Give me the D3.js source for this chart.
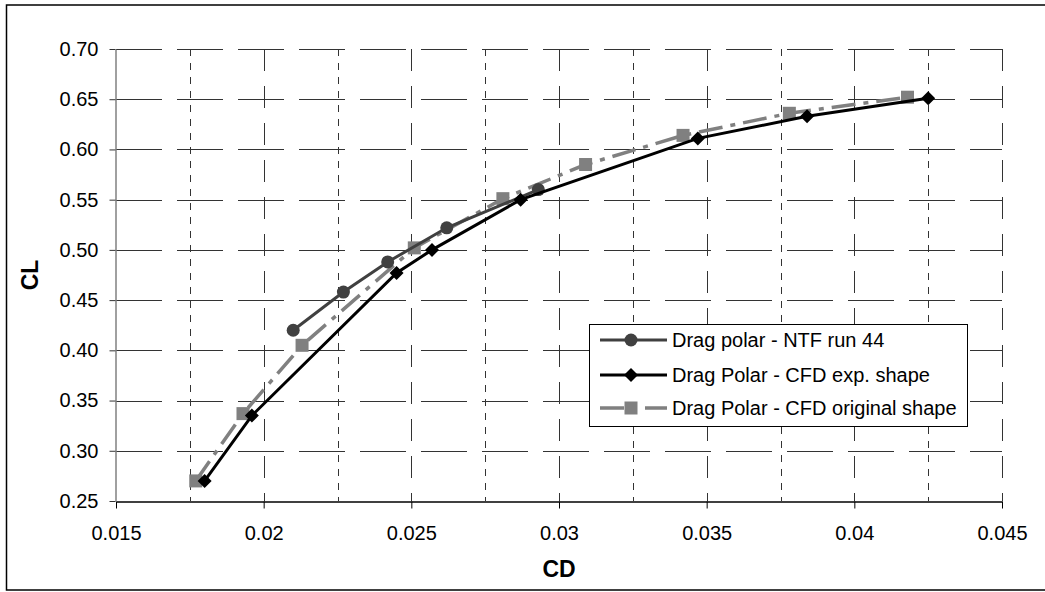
<!DOCTYPE html>
<html><head><meta charset="utf-8">
<script src="https://cdn.jsdelivr.net/npm/d3@7"></script>
<style>
html,body{margin:0;padding:0;background:#fff;}
svg{display:block;font-family:"Liberation Sans",Arial,sans-serif;}
</style></head>
<body><svg id="c" width="1045" height="592"></svg>
<script>
// ---- data ----
const xTickValues = [0.015, 0.02, 0.025, 0.03, 0.035, 0.04, 0.045];
const xTickLabels = ["0.015", "0.02", "0.025", "0.03", "0.035", "0.04", "0.045"];
const yTickValues = [0.25, 0.30, 0.35, 0.40, 0.45, 0.50, 0.55, 0.60, 0.65, 0.70];
const yTickLabels = ["0.25", "0.30", "0.35", "0.40", "0.45", "0.50", "0.55", "0.60", "0.65", "0.70"];
const xMinorGrid = [0.0175, 0.0225, 0.0275, 0.0325, 0.0375, 0.0425];

const ntfCD = [0.0210, 0.0227, 0.0242, 0.0262, 0.0293];
const ntfCL = [0.420, 0.458, 0.488, 0.522, 0.560];
const expCD = [0.0180, 0.0196, 0.0245, 0.0257, 0.0287, 0.0347, 0.0384, 0.0425];
const expCL = [0.270, 0.335, 0.477, 0.500, 0.550, 0.611, 0.633, 0.651];
const origCD = [0.0177, 0.0193, 0.0213, 0.0251, 0.0281, 0.0309, 0.0342, 0.0378, 0.0418];
const origCL = [0.270, 0.337, 0.405, 0.502, 0.551, 0.585, 0.614, 0.636, 0.652];

const seriesNames = ["Drag polar - NTF run 44", "Drag Polar - CFD exp. shape", "Drag Polar - CFD original shape"];
const xTitle = "CD", yTitle = "CL";

// ---- layout ----
const svg = d3.select("#c");
const L = 116, R = 1002, T = 49, B = 501;
const x = d3.scaleLinear().domain([0.015, 0.045]).range([L, R]);
const y = d3.scaleLinear().domain([0.25, 0.70]).range([B, T]);

// outer border
svg.append("rect").attr("x", 6.5).attr("y", 5).attr("width", 1045).attr("height", 585)
  .attr("fill", "none").attr("stroke", "#000").attr("stroke-width", 1.5);

// grid
const g = svg.append("g");
g.selectAll(".hg").data(yTickValues.slice(1)).enter().append("line")
  .attr("x1", L).attr("x2", R).attr("y1", d => Math.round(y(d)) + 0.5).attr("y2", d => Math.round(y(d)) + 0.5)
  .attr("stroke", "#333").attr("stroke-width", 1).attr("stroke-dasharray", "46,15");
g.selectAll(".vg").data(xTickValues.slice(1)).enter().append("line")
  .attr("x1", d => Math.round(x(d)) + 0.5).attr("x2", d => Math.round(x(d)) + 0.5).attr("y1", T).attr("y2", B)
  .attr("stroke", "#333").attr("stroke-width", 1).attr("stroke-dasharray", "22,15");
g.selectAll(".vm").data(xMinorGrid).enter().append("line")
  .attr("x1", d => Math.round(x(d)) + 0.5).attr("x2", d => Math.round(x(d)) + 0.5).attr("y1", T).attr("y2", B)
  .attr("stroke", "#333").attr("stroke-width", 1).attr("stroke-dasharray", "7,7");

// axes
const xAxis = d3.axisBottom(x).tickValues(xTickValues).tickFormat((d, i) => xTickLabels[i]).tickSize(7).tickSizeOuter(0).tickPadding(17);
const xa = svg.append("g").attr("transform", `translate(0,${B + 0.5})`).call(xAxis);
xa.select(".domain").attr("stroke", "#000").attr("stroke-width", 1.5);
xa.selectAll(".tick line").attr("stroke", "#000");
xa.selectAll("text").attr("font-size", 20).attr("fill", "#000").attr("font-family", "Liberation Sans, Arial, sans-serif");

const yAxis = d3.axisLeft(y).tickValues(yTickValues).tickFormat((d, i) => yTickLabels[i]).tickSize(6).tickSizeOuter(0).tickPadding(11);
const ya = svg.append("g").attr("transform", `translate(${L - 0.5},0)`).call(yAxis);
ya.select(".domain").attr("stroke", "#808080").attr("stroke-width", 1.5);
ya.selectAll(".tick line").attr("stroke", "#333");
ya.selectAll("text").attr("font-size", 20).attr("fill", "#000").attr("font-family", "Liberation Sans, Arial, sans-serif");

// titles
svg.append("text").attr("x", (L + R) / 2).attr("y", 577).attr("text-anchor", "middle")
  .attr("font-size", 23).attr("font-weight", "bold").text(xTitle);
svg.append("text").attr("transform", `translate(38,${(T + B) / 2}) rotate(-90)`).attr("text-anchor", "middle")
  .attr("font-size", 23).attr("font-weight", "bold").text(yTitle);

// series
const line = d3.line().x(d => x(d[0])).y(d => y(d[1]));
const ntf = ntfCD.map((v, i) => [v, ntfCL[i]]);
const exp = expCD.map((v, i) => [v, expCL[i]]);
const orig = origCD.map((v, i) => [v, origCL[i]]);

const diamond = s => `M0,${-s}L${s},0L0,${s}L${-s},0Z`;
const origDash = "24,8,5,8";

function drawOrig(gg) {
  gg.append("path").datum(orig).attr("d", line).attr("fill", "none").attr("stroke", "#808080")
    .attr("stroke-width", 3.5).attr("stroke-dasharray", origDash);
  gg.selectAll("rect.m").data(orig).enter().append("rect")
    .attr("x", d => x(d[0]) - 6.5).attr("y", d => y(d[1]) - 6.5).attr("width", 13).attr("height", 13).attr("fill", "#808080");
}
function drawNtf(gg) {
  gg.append("path").datum(ntf).attr("d", line).attr("fill", "none").attr("stroke", "#404040").attr("stroke-width", 3);
  gg.selectAll("circle").data(ntf).enter().append("circle")
    .attr("cx", d => x(d[0])).attr("cy", d => y(d[1])).attr("r", 6.5).attr("fill", "#404040");
}
function drawExp(gg) {
  gg.append("path").datum(exp).attr("d", line).attr("fill", "none").attr("stroke", "#000").attr("stroke-width", 3);
  gg.selectAll("path.m").data(exp).enter().append("path").attr("class", "m")
    .attr("transform", d => `translate(${x(d[0])},${y(d[1])})`).attr("d", diamond(7)).attr("fill", "#000");
}
drawOrig(svg.append("g"));
drawNtf(svg.append("g"));
drawExp(svg.append("g"));

// legend
const lg = svg.append("g");
lg.append("rect").attr("x", 589.5).attr("y", 324.5).attr("width", 378).attr("height", 102)
  .attr("fill", "#fff").attr("stroke", "#000").attr("stroke-width", 1);
const rows = [340, 375, 408];
// NTF
lg.append("line").attr("x1", 600).attr("x2", 667).attr("y1", rows[0]).attr("y2", rows[0]).attr("stroke", "#404040").attr("stroke-width", 3);
lg.append("circle").attr("cx", 631).attr("cy", rows[0]).attr("r", 6.5).attr("fill", "#404040");
// exp
lg.append("line").attr("x1", 600).attr("x2", 667).attr("y1", rows[1]).attr("y2", rows[1]).attr("stroke", "#000").attr("stroke-width", 3);
lg.append("path").attr("transform", `translate(631,${rows[1]})`).attr("d", diamond(7)).attr("fill", "#000");
// orig
lg.append("line").attr("x1", 600).attr("x2", 667).attr("y1", rows[2]).attr("y2", rows[2]).attr("stroke", "#808080")
  .attr("stroke-width", 3.5).attr("stroke-dasharray", origDash);
lg.append("rect").attr("x", 631 - 6.5).attr("y", rows[2] - 6.5).attr("width", 13).attr("height", 13).attr("fill", "#808080");
lg.selectAll("text").data(seriesNames).enter().append("text")
  .attr("x", 672).attr("y", (d, i) => rows[i]).attr("dy", "0.36em").attr("font-size", 20).attr("fill", "#000").text(d => d);
</script></body></html>
